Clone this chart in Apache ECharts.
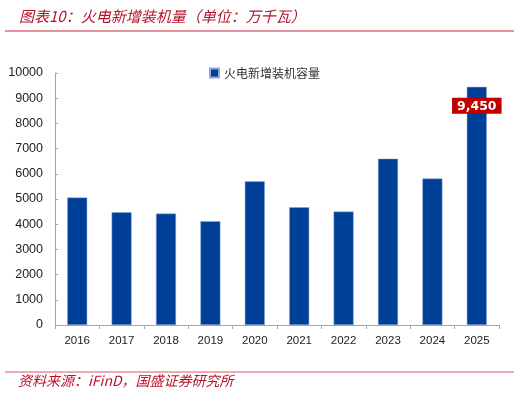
<!DOCTYPE html>
<html>
<head>
<meta charset="utf-8">
<script src="https://cdn.jsdelivr.net/npm/echarts@6/dist/echarts.min.js"></script>
<style>
  html, body { margin: 0; padding: 0; background: #fff; }
  #main { width: 519px; height: 400px; }
</style>
</head>
<body>
<div id="main"></div>
<script>
// 数据
var years = ['2016', '2017', '2018', '2019', '2020', '2021', '2022', '2023', '2024', '2025'];
var capacity = [5060, 4470, 4420, 4120, 5700, 4670, 4500, 6600, 5810, 9450];
var yTicks = [0, 1000, 2000, 3000, 4000, 5000, 6000, 7000, 8000, 9000, 10000];

var chart = echarts.init(document.getElementById('main'));

var option = {
  animation: false,
  textStyle: { fontFamily: 'Noto Sans CJK SC' },
  title: {
    text: '图表10：火电新增装机量（单位：万千瓦）',
    left: 14,
    top: 4,
    textStyle: {
      fontSize: 15,
      fontStyle: 'italic',
      fontWeight: 'normal',
      color: '#B8122B',
      fontFamily: 'Noto Sans CJK SC'
    }
  },
  legend: {
    data: ['火电新增装机容量'],
    left: 204,
    top: 62,
    itemWidth: 9,
    itemHeight: 9,
    itemGap: 4,
    icon: 'rect',
    textStyle: { fontSize: 12, color: '#333' }
  },
  grid: { left: 55, right: 20, top: 73, bottom: 75 },
  xAxis: {
    type: 'category',
    data: years,
    axisLine: { lineStyle: { color: '#A6A6A6' } },
    axisTick: { show: true, length: 4, lineStyle: { color: '#A6A6A6' } },
    axisLabel: { fontSize: 11.5, color: '#222', margin: 10, fontFamily: 'Liberation Sans' }
  },
  yAxis: {
    type: 'value',
    min: yTicks[0],
    max: yTicks[yTicks.length - 1],
    interval: 1000,
    splitLine: { show: false },
    axisLine: { show: true, lineStyle: { color: '#A6A6A6' } },
    axisTick: { show: true, inside: true, length: 3, lineStyle: { color: '#A6A6A6' } },
    axisLabel: {
      fontSize: 12.5, color: '#222', margin: 12, fontFamily: 'Liberation Sans',
      formatter: function (v) { return String(v); }
    }
  },
  series: [{
    name: '火电新增装机容量',
    type: 'bar',
    data: capacity.map(function (v, i) {
      if (i === capacity.length - 1) {
        return {
          value: v,
          label: {
            show: true,
            position: 'insideTop',
            distance: 11,
            formatter: function (p) { return p.value.toLocaleString('en-US'); },
            backgroundColor: '#C00000',
            color: '#fff',
            fontWeight: 'bold',
            fontSize: 12.5,
            fontFamily: 'DejaVu Sans',
            padding: [2, 5, 1, 5]
          }
        };
      }
      return v;
    }),
    barWidth: 20,
    itemStyle: { color: '#003F98', borderColor: '#8FA8D6', borderWidth: 0.5 }
  }],
  graphic: [
    { type: 'line', shape: { x1: 5, y1: 31, x2: 514, y2: 31 }, style: { stroke: '#C8242E', lineWidth: 1 } },
    { type: 'line', shape: { x1: 5, y1: 372, x2: 514, y2: 372 }, style: { stroke: '#E05560', lineWidth: 1 } },
    {
      type: 'text', left: 18, top: 374,
      style: {
        text: '资料来源：iFinD，国盛证券研究所',
        fontSize: 14, fontStyle: 'italic', fill: '#B8122B',
        fontFamily: 'Noto Sans CJK SC'
      }
    }
  ]
};

chart.setOption(option);
</script>
</body>
</html>
